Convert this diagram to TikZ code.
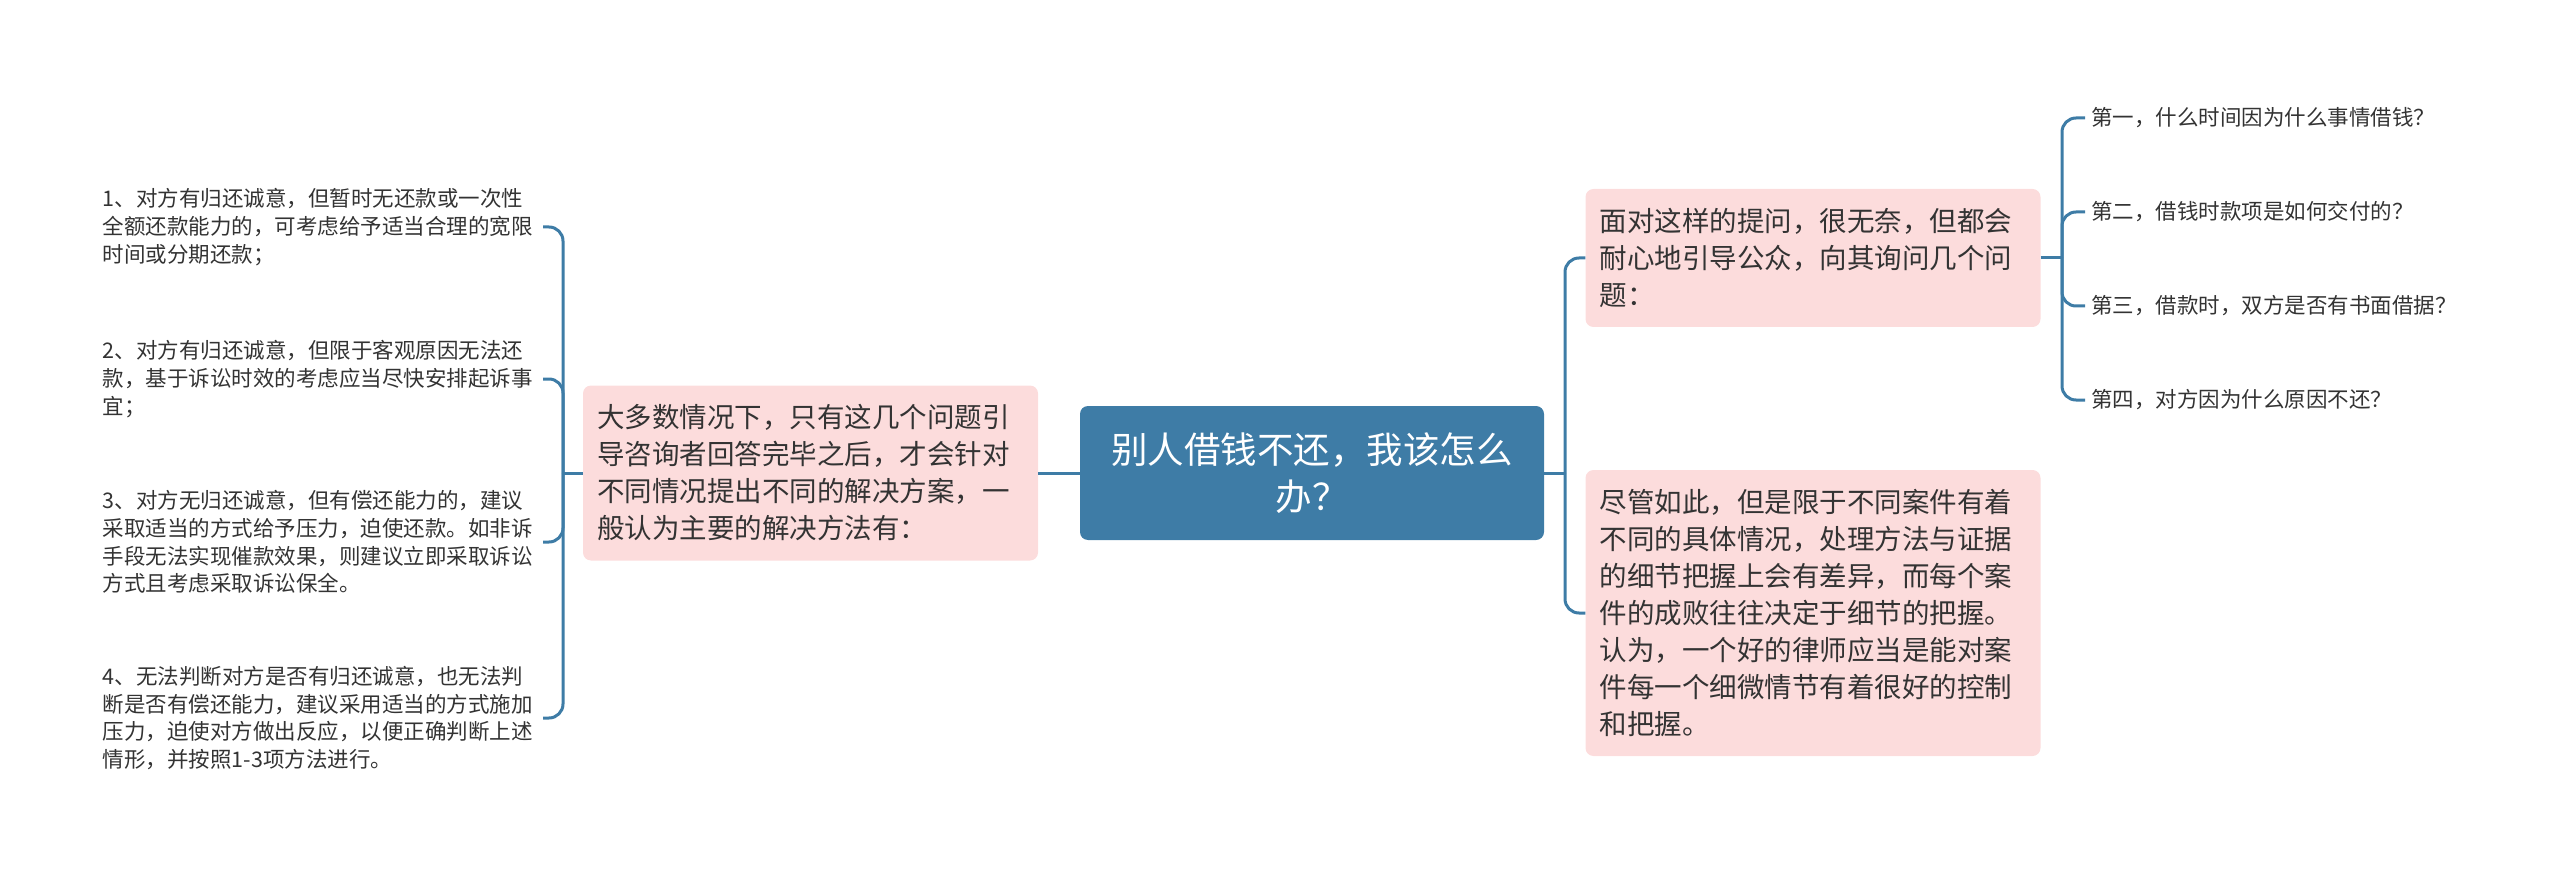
\documentclass[tikz,border=0pt]{standalone}
\usepackage{fontspec}
\setmainfont{Noto Sans CJK SC}
\usepackage{tikz}
\definecolor{azul}{HTML}{3E7CA6}
\definecolor{rosa}{HTML}{FCDCDC}
\definecolor{texto}{HTML}{333333}

\begin{document}
\begin{tikzpicture}[x=1pt, y=-1pt,
      c/.style={fill=azul, rounded corners=8pt, text=white, align=center, minimum width=464pt, minimum height=134pt, font=\fontsize{36.5pt}{47pt}\selectfont},
      r/.style={fill=rosa, rounded corners=8pt, text=texto, align=left, text width=427pt, inner xsep=14pt, font=\fontsize{27.5pt}{37pt}\selectfont},
      h/.style={text=texto, align=left, inner xsep=6pt, font=\fontsize{21.5pt}{27.7pt}\selectfont},
      l/.style={draw=azul, line width=3pt, rounded corners=14pt}]
    \useasboundingbox (0,0) rectangle (2560,877);
    % centro
    \node[c] (c) at (1312,473) {别人借钱不还，我该怎么\\办？};
    % ramas
    \node[r, minimum height=175pt] (pl) at (810.5,473) {大多数情况下，只有这几个问题引\\导咨询者回答完毕之后，才会针对\\不同情况提出不同的解决方案，一\\般认为主要的解决方法有：};
    \node[r, minimum height=138pt] (pa) at (1813,258) {面对这样的提问，很无奈，但都会\\耐心地引导公众，向其询问几个问\\题：};
    \node[r, minimum height=286pt] (pb) at (1813,613) {尽管如此，但是限于不同案件有着\\不同的具体情况，处理方法与证据\\的细节把握上会有差异，而每个案\\件的成败往往决定于细节的把握。\\认为，一个好的律师应当是能对案\\件每一个细微情节有着很好的控制\\和把握。};
    % hojas izquierda
    \node[h, text width=434pt, anchor=east] (h1) at (543,227) {1、对方有归还诚意，但暂时无还款或一次性\\全额还款能力的，可考虑给予适当合理的宽限\\时间或分期还款；};
    \node[h, text width=434pt, anchor=east] (h2) at (543,379) {2、对方有归还诚意，但限于客观原因无法还\\款，基于诉讼时效的考虑应当尽快安排起诉事\\宜；};
    \node[h, text width=434pt, anchor=east] (h3) at (543,542) {3、对方无归还诚意，但有偿还能力的，建议\\采取适当的方式给予压力，迫使还款。如非诉\\手段无法实现催款效果，则建议立即采取诉讼\\方式且考虑采取诉讼保全。};
    \node[h, text width=434pt, anchor=east] (h4) at (543,718) {4、无法判断对方是否有归还诚意，也无法判\\断是否有偿还能力，建议采用适当的方式施加\\压力，迫使对方做出反应，以便正确判断上述\\情形，并按照1-3项方法进行。};
    % hojas derecha
    \node[h, anchor=west] (q1) at (2085,118) {第一，什么时间因为什么事情借钱？};
    \node[h, anchor=west] (q2) at (2085,212) {第二，借钱时款项是如何交付的？};
    \node[h, anchor=west] (q3) at (2085,306) {第三，借款时，双方是否有书面借据？};
    \node[h, anchor=west] (q4) at (2085,400) {第四，对方因为什么原因不还？};
    % conectores
    \coordinate (sc) at (1565,473);
    \coordinate (sl) at (563,473);
    \coordinate (sa) at (2062,258);
    \draw[l] (c.west) -- (pl.east);
    \draw[l] (c.east) -- (sc);
    \draw[l] (sc) |- (pa.west);
    \draw[l] (sc) |- (pb.west);
    \draw[l] (pl.west) -- (sl);
    \foreach \n in {h1,h2,h3,h4}
      \draw[l] (sl) |- (\n.east);
    \draw[l] (pa.east) -- (sa);
    \foreach \n in {q1,q2,q3,q4}
      \draw[l] (sa) |- (\n.west);
  \end{tikzpicture}
\end{document}
